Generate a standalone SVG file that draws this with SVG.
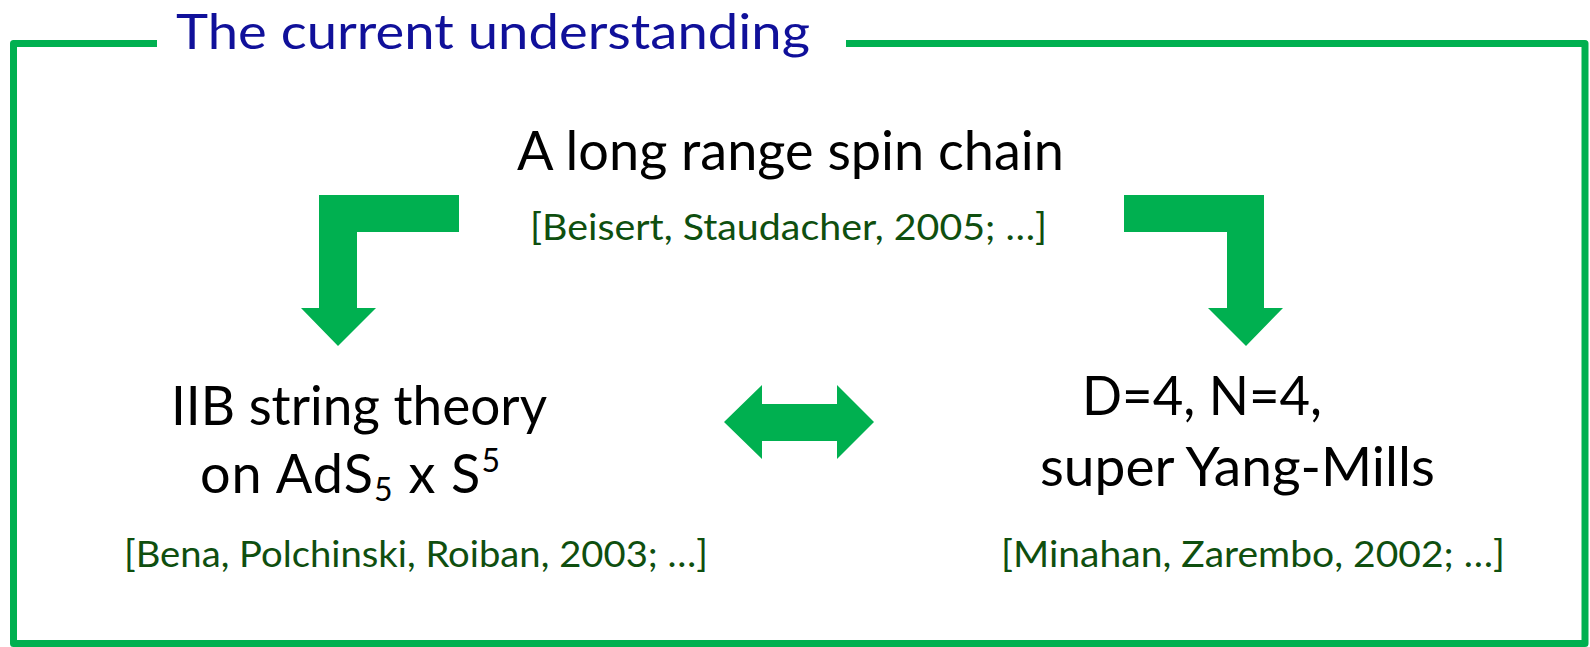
<svg xmlns="http://www.w3.org/2000/svg" width="1590" height="647" viewBox="0 0 1590 647">
<style>
  .frame { fill: none; stroke: #00B050; stroke-width: 7; stroke-linejoin: round; }
  .arrow { fill: #00B050; }
  .title { font-family: Lato, "Open Sans", sans-serif; font-size: 49px; fill: #10109A; }
  .main { font-family: Lato, "Open Sans", sans-serif; font-size: 54px; fill: #000000; }
  .cite { font-family: Lato, "Open Sans", sans-serif; font-size: 36px; fill: #0F4F0F; }
</style>
<rect x="0" y="0" width="1590" height="647" fill="#FFFFFF"/>
<g id="frame">
  <path class="frame" d="M157,43.5 H13.5 V643.5 H1585 V43.5 H846"/>
  <text class="title" x="176" y="49" textLength="634" lengthAdjust="spacingAndGlyphs">The current understanding</text>
</g>
<g id="node-spin-chain">
  <text class="main" x="517" y="170" textLength="547" lengthAdjust="spacingAndGlyphs">A long range spin chain</text>
  <text class="cite" x="530" y="240" textLength="517" lengthAdjust="spacingAndGlyphs">[Beisert, Staudacher, 2005; …]</text>
</g>
<g id="node-string-theory">
  <text class="main" x="171" y="425" textLength="376" lengthAdjust="spacingAndGlyphs">IIB string theory</text>
  <text class="main" x="200" y="493" letter-spacing="1">on AdS<tspan font-size="32" dy="8">5</tspan><tspan dy="-8"> x S</tspan><tspan font-size="32" dy="-21">5</tspan></text>
  <text class="cite" x="124" y="567" textLength="584" lengthAdjust="spacingAndGlyphs">[Bena, Polchinski, Roiban, 2003; …]</text>
</g>
<g id="node-sym">
  <text class="main" x="1082" y="415" textLength="240" lengthAdjust="spacingAndGlyphs">D=4, N=4,</text>
  <text class="main" x="1040" y="486" textLength="395" lengthAdjust="spacingAndGlyphs">super Yang-Mills</text>
  <text class="cite" x="1001" y="567" textLength="504" lengthAdjust="spacingAndGlyphs">[Minahan, Zarembo, 2002; …]</text>
</g>
<g id="connectors">
  <polygon class="arrow" points="459,195 319,195 319,308 301,308 338,346 376,308 357,308 357,232 459,232"/>
  <polygon class="arrow" points="1124,195 1264,195 1264,308 1283,308 1246,346 1208,308 1227,308 1227,232 1124,232"/>
  <polygon class="arrow" points="724,422 762,385 762,404 837,404 837,385 874,422 837,459 837,441 762,441 762,459"/>
</g>
</svg>
